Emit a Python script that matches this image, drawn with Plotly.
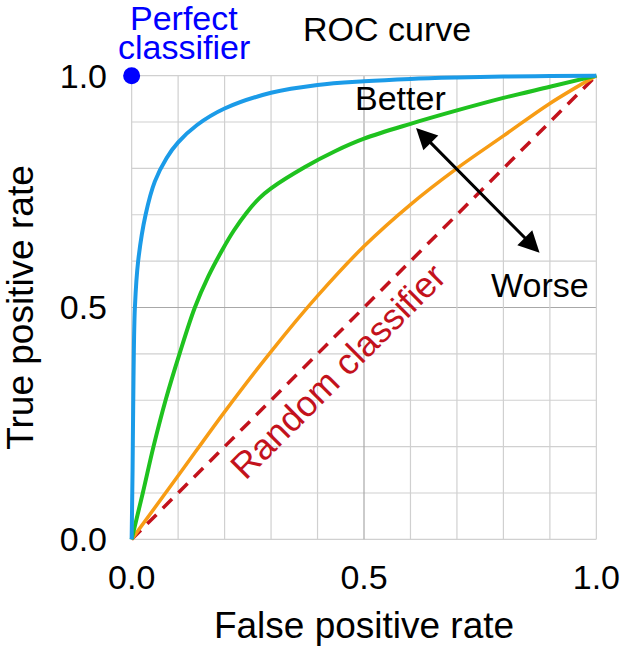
import plotly.graph_objects as go

# ---- data ----
blue_x = [0, 0.002, 0.004, 0.007, 0.014, 0.03, 0.05, 0.075, 0.1, 0.14, 0.2, 0.3, 0.4, 0.5, 0.6, 0.7, 0.8, 0.9, 1.0]
blue_y = [0, 0.15, 0.35, 0.5, 0.6, 0.7, 0.772, 0.822, 0.856, 0.893, 0.929, 0.963, 0.98, 0.988, 0.993, 0.996, 0.998, 0.999, 1.0]

green_x = [0, 0.024, 0.047, 0.073, 0.103, 0.136, 0.165, 0.195, 0.22, 0.247, 0.275, 0.3, 0.373, 0.4375, 0.5, 0.6, 0.7, 0.8, 0.9, 1.0]
green_y = [0, 0.1, 0.2, 0.3, 0.4, 0.5, 0.567, 0.624, 0.666, 0.704, 0.736, 0.757, 0.803, 0.837, 0.864, 0.896, 0.925, 0.952, 0.976, 1.0]

orange_x = [0, 0.1, 0.2, 0.3, 0.4, 0.5, 0.6, 0.7, 0.8, 0.9, 1.0]
orange_y = [0, 0.137, 0.275, 0.405, 0.525, 0.632, 0.722, 0.8, 0.87, 0.94, 1.0]

random_x = [0, 1]
random_y = [0, 1]

perfect_x = [0]
perfect_y = [1]

tick_vals = [0, 0.5, 1.0]
tick_text = ["0.0", "0.5", "1.0"]
grid_vals = [0, 0.1, 0.2, 0.3, 0.4, 0.5, 0.6, 0.7, 0.8, 0.9, 1.0]

FONT = "Liberation Sans, Arial, Helvetica, sans-serif"
FS = 34
LO, HI = -0.01, 1.01


def to_paper(v):
    return (v - LO) / (HI - LO)


fig = go.Figure()

# grid lines (0..1 only)
for g in grid_vals:
    col = "#a8a8a8" if g == 0.5 else "#d0d0d0"
    fig.add_shape(type="line", xref="x", yref="y", x0=g, x1=g, y0=0, y1=1,
                  line=dict(color=col, width=1.2), layer="below")
    fig.add_shape(type="line", xref="x", yref="y", x0=0, x1=1, y0=g, y1=g,
                  line=dict(color=col, width=1.2), layer="below")

fig.add_trace(go.Scatter(x=random_x, y=random_y, mode="lines",
                         line=dict(color="#c3121c", width=3.5, dash="13px,9px"),
                         hoverinfo="skip"))
fig.add_trace(go.Scatter(x=orange_x, y=orange_y, mode="lines", line_shape="spline",
                         line=dict(color="#f79c14", width=3.5), hoverinfo="skip"))
fig.add_trace(go.Scatter(x=green_x, y=green_y, mode="lines", line_shape="spline",
                         line=dict(color="#1fc21f", width=4), hoverinfo="skip"))
fig.add_trace(go.Scatter(x=blue_x, y=blue_y, mode="lines", line_shape="spline",
                         line=dict(color="#1b9be8", width=4), hoverinfo="skip"))
fig.add_trace(go.Scatter(x=perfect_x, y=perfect_y, mode="markers", cliponaxis=False,
                         marker=dict(color="#0000ff", size=17), hoverinfo="skip"))

ann = []


def txt(t, x, y, color="black", size=FS, angle=0):
    ann.append(dict(text=t, x=to_paper(x), y=to_paper(y), xref="paper", yref="paper",
                    showarrow=False,
                    font=dict(family=FONT, size=size, color=color),
                    textangle=angle, xanchor="center", yanchor="middle"))


txt("Perfect", 0.112, 1.124, color="#0000ff")
txt("classifier", 0.112, 1.062, color="#0000ff")
txt("ROC curve", 0.55, 1.100)
txt("Better", 0.578, 0.951)
txt("Worse", 0.879, 0.548)
txt("Random classifier", 0.443, 0.362, color="#c3121c", size=36, angle=-45)

# double arrow
ann.append(dict(x=0.612, y=0.887, ax=0.881, ay=0.615, xref="x", yref="y",
                axref="x", ayref="y", text="", showarrow=True, arrowhead=2,
                arrowside="end+start", arrowsize=1.4, arrowwidth=3, arrowcolor="black"))

fig.update_layout(
    width=622, height=646,
    margin=dict(l=127, r=21, t=71, b=102),
    paper_bgcolor="white", plot_bgcolor="white",
    showlegend=False,
    annotations=ann,
    font=dict(family=FONT, size=FS, color="black"),
    xaxis=dict(range=[LO, HI], showgrid=False, zeroline=False, showline=False,
               automargin=False,
               tickvals=tick_vals, ticktext=tick_text, ticks="",
               tickfont=dict(size=FS), ticklabelstandoff=10,
               title=dict(text="False positive rate", font=dict(size=37), standoff=17)),
    yaxis=dict(range=[LO, HI], showgrid=False, zeroline=False, showline=False,
               automargin=False,
               tickvals=tick_vals, ticktext=tick_text, ticks="",
               tickfont=dict(size=FS), ticklabelstandoff=19,
               title=dict(text="True positive rate", font=dict(size=37), standoff=17)),
)

# remove the page's default 8px body margin so the figure fills the window exactly
fig.write_html("out.html", config={"displayModeBar": False},
               post_script="document.body.style.margin='0px';document.body.style.overflow='hidden';")
